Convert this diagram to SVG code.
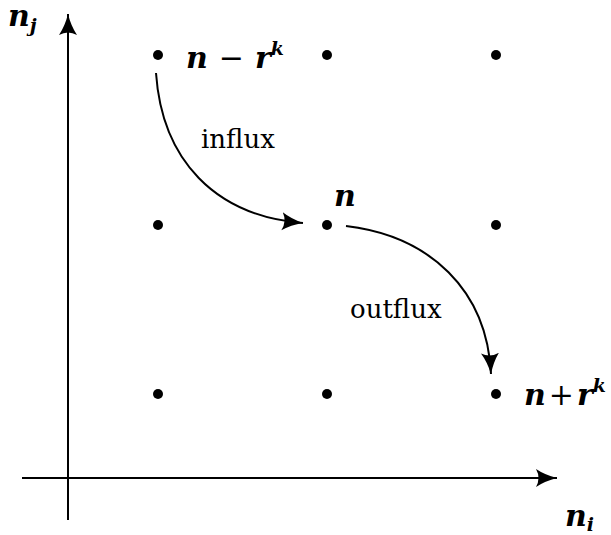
<svg xmlns="http://www.w3.org/2000/svg" width="611" height="535" viewBox="0 0 611 535">
<style>
.ln{stroke:#000;stroke-width:2;fill:none}
.dot{fill:#000}
.m{font-family:"DejaVu Serif",serif;font-weight:bold;font-style:italic;font-size:30px;fill:#000}
.op{font-family:"DejaVu Serif",serif;font-size:30px;fill:#000}
.sup{font-family:"DejaVu Serif",serif;font-weight:bold;font-style:italic;font-size:19px;fill:#000}
.t{font-family:"DejaVu Serif",serif;font-size:26px;fill:#000}
</style>
<defs>
<marker id="ah" markerWidth="24" markerHeight="20" refX="21" refY="10" orient="auto" markerUnits="userSpaceOnUse">
<path d="M0,1 Q9,7 21,10 Q9,13 0,19 Q5,10 0,1Z" fill="#000"/>
</marker>
</defs>
<g id="connectors">
<path class="ln" d="M68,520 L68,14" marker-end="url(#ah)"/>
<path class="ln" d="M22,478 L557,478" marker-end="url(#ah)"/>
<path class="ln" d="M156,73 C162,160 215,216 303,223" marker-end="url(#ah)"/>
<path class="ln" d="M346,226 C430,236 487,290 491,374" marker-end="url(#ah)"/>
</g>
<g id="n00"><circle class="dot" cx="158" cy="394" r="5"/></g>
<g id="n10"><circle class="dot" cx="327" cy="394" r="5"/></g>
<g id="n20"><circle class="dot" cx="496" cy="394" r="5"/><text x="524" y="405"><tspan class="m">n</tspan><tspan class="op" dx="3">+</tspan><tspan class="m" dx="3">r</tspan><tspan class="sup" dy="-13">k</tspan></text></g>
<g id="n01"><circle class="dot" cx="158" cy="225" r="5"/></g>
<g id="n11"><circle class="dot" cx="327" cy="225" r="5"/><text class="m" x="334" y="206">n</text></g>
<g id="n21"><circle class="dot" cx="496" cy="225" r="5"/></g>
<g id="n02"><circle class="dot" cx="158" cy="55" r="5"/><text x="186" y="68"><tspan class="m">n</tspan><tspan class="op" dx="11">−</tspan><tspan class="m" dx="11">r</tspan><tspan class="sup" dy="-13">k</tspan></text></g>
<g id="n12"><circle class="dot" cx="327" cy="55" r="5"/></g>
<g id="n22"><circle class="dot" cx="496" cy="55" r="5"/></g>
<g id="labels">
<text x="8" y="26"><tspan class="m">n</tspan><tspan class="sup" dy="6">j</tspan></text>
<text x="565" y="526"><tspan class="m">n</tspan><tspan class="sup" dy="5">i</tspan></text>
<text class="t" x="201" y="148">influx</text>
<text class="t" x="350" y="318">outflux</text>
</g>
</svg>
